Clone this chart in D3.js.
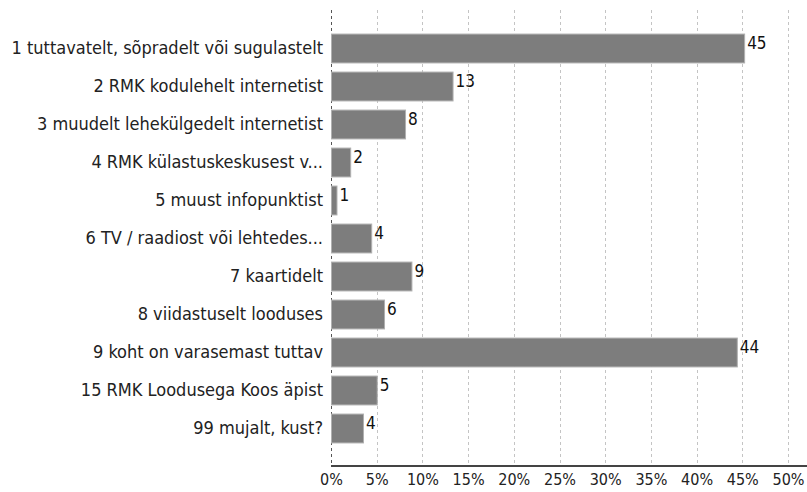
<!DOCTYPE html>
<html>
<head>
<meta charset="utf-8">
<script src="https://cdn.jsdelivr.net/npm/d3@7"></script>
<style>
  body { margin: 0; background: #fff; }
  svg text { font-family: "DejaVu Sans Condensed", "DejaVu Sans", sans-serif; font-stretch: condensed; fill: #222; }
</style>
</head>
<body>
<svg id="chart" width="807" height="492"></svg>
<script>
// Data
const categories = [
    "1 tuttavatelt, sõpradelt või sugulastelt",
    "2 RMK kodulehelt internetist",
    "3 muudelt lehekülgedelt internetist",
    "4 RMK külastuskeskusest v...",
    "5 muust infopunktist",
    "6 TV / raadiost või lehtedes...",
    "7 kaartidelt",
    "8 viidastuselt looduses",
    "9 koht on varasemast tuttav",
    "15 RMK Loodusega Koos äpist",
    "99 mujalt, kust?"
];
const values = [45.2, 13.3, 8.1, 2.1, 0.6, 4.4, 8.8, 5.8, 44.4, 5.0, 3.5];
const valueLabels = ["45", "13", "8", "2", "1", "4", "9", "6", "44", "5", "4"];
const xTicks = [0, 5, 10, 15, 20, 25, 30, 35, 40, 45, 50];

// Setup
const width = 807, height = 492;
const margin = { top: 10, right: 0, bottom: 26, left: 331 };
const svg = d3.select("svg#chart");

const x = d3.scaleLinear().domain([0, 50]).range([margin.left, 788]);
const y = d3.scaleBand().domain(categories)
    .range([margin.top, height - margin.bottom])
    .paddingInner(0.24).paddingOuter(0.62);

// Gridlines
svg.append("g").attr("class", "grid")
   .selectAll("line")
   .data(xTicks.slice(1))
   .enter()
   .append("line")
   .attr("x1", d => Math.round(x(d)) + 0.5)
   .attr("x2", d => Math.round(x(d)) + 0.5)
   .attr("y1", margin.top)
   .attr("y2", height - margin.bottom)
   .attr("stroke", "#c4c4c4")
   .attr("stroke-dasharray", "3,3");

// Zero line
svg.append("line")
   .attr("x1", x(0) + 0.5).attr("x2", x(0) + 0.5)
   .attr("y1", margin.top).attr("y2", height - margin.bottom)
   .attr("stroke", "#555")
   .attr("stroke-dasharray", "3,3");

// Bars
svg.append("g").attr("class", "bars")
   .selectAll("rect")
   .data(values)
   .enter()
   .append("rect")
   .attr("x", x(0) + 0.5)
   .attr("y", (d, i) => y(categories[i]) + 0.5)
   .attr("width", d => x(d) - x(0))
   .attr("height", y.bandwidth())
   .attr("fill", "#7d7d7d")
   .attr("stroke", "#b0b0b0")
   .attr("stroke-width", 1);

// Value labels
svg.append("g").attr("class", "values")
   .selectAll("text")
   .data(values)
   .enter()
   .append("text")
   .attr("x", d => x(d) + 3)
   .attr("y", (d, i) => y(categories[i]) + 15)
   .attr("font-size", 17)
   .style("fill", "#111")
   .text((d, i) => valueLabels[i]);

// Category axis labels
svg.append("g").attr("class", "cats")
   .selectAll("text")
   .data(categories)
   .enter()
   .append("text")
   .attr("x", margin.left - 8)
   .attr("y", d => y(d) + y.bandwidth() / 2)
   .attr("dy", "0.35em")
   .attr("text-anchor", "end")
   .attr("font-size", 18)
   .text(d => d);

// Bottom axis
const xAxis = d3.axisBottom(x).tickValues(xTicks).tickSize(0).tickPadding(8)
    .tickFormat(d => d + "%");
const gx = svg.append("g")
   .attr("transform", `translate(0,${height - margin.bottom})`)
   .call(xAxis);
gx.select(".domain").remove();
gx.selectAll("text").attr("font-size", 16)
   .style("font-family", "DejaVu Sans Condensed, DejaVu Sans, sans-serif").style("fill", "#222");
svg.append("line")
   .attr("x1", x(0)).attr("x2", width)
   .attr("y1", height - margin.bottom).attr("y2", height - margin.bottom)
   .attr("stroke", "#444").attr("stroke-width", 2);
</script>
</body>
</html>
